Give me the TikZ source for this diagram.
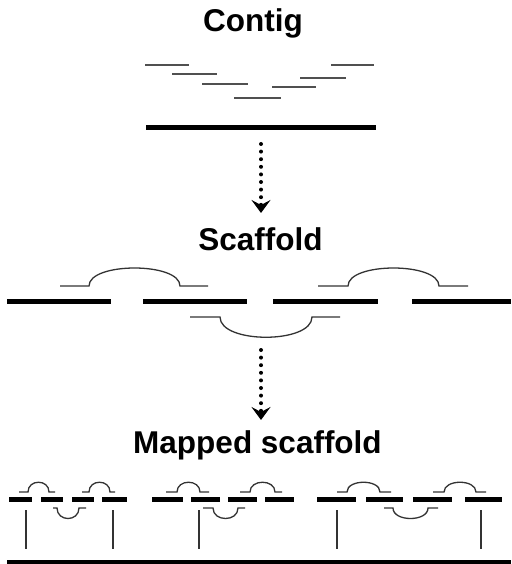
\documentclass[tikz,border=0pt]{standalone}
\usepackage{fontspec}
\setmainfont{Liberation Sans}
\usetikzlibrary{arrows.meta}

\begin{document}
\begin{tikzpicture}[x=1pt,y=-1pt,
  title/.style={font=\fontsize{31.5}{36}\selectfont\bfseries,anchor=base,inner sep=0pt},
  read/.style={draw=readgrey,line width=1.6pt},
  bar/.style={line width=5pt},
  link/.style={draw=linkgrey,line width=1.3pt},
  tether/.style={draw=linkgrey,line width=1.5pt},
  flow/.style={line width=4pt,line cap=round,dash pattern=on 0pt off 7.6pt,
    -{Stealth[length=13pt,width=19pt,inset=5pt]}}]
\definecolor{readgrey}{HTML}{505050}
\definecolor{linkgrey}{HTML}{333333}
\useasboundingbox (0,0) rectangle (511,564);

% titles
\node[title] (contig) at (253,32) {Contig};
\node[title] (scaffold) at (260.5,250) {Scaffold};
\node[title] (mapped) at (257.5,453) {Mapped scaffold};

% reads and the contig
\foreach \xa/\xb/\y in {145/189/65,172/217/74,202/248/84,234/281/98,272/316/87,300/346/78,331/374/65}
  {\draw[read] (\xa,\y) -- (\xb,\y);}
\draw[bar] (146,128) -- (376,128);

\coordinate (flowA) at (261,144);
\coordinate (flowAend) at (261,213);
\draw[flow] (flowA) -- (flowAend);

% scaffold
\foreach \xa/\xb in {7/111,143/247,273/378,412/511}
  {\draw[bar] (\xa,301) -- (\xb,301);}
\foreach \a/\b/\c/\d in {60/89/180/208,318/348/439/468}
  {\draw[link] (\a,286) -- (\b,286) .. controls (\b,262) and (\c,262) .. (\c,286) -- (\d,286);}
\draw[link] (190,317) -- (220,317) .. controls (220,344) and (312,344) .. (312,317) -- (340,317);

\coordinate (flowB) at (261,350);
\coordinate (flowBend) at (261,420);
\draw[flow] (flowB) -- (flowBend);

% mapped scaffold
\foreach \xa/\xb in {9/32,41/63,72/94,102/127,152/183,191/220,228/257,265/294,317/356,366/403,413/452,465/502}
  {\draw[bar] (\xa,499) -- (\xb,499);}
\foreach \a/\b/\c/\d in {19/28/49/55,82/89/110/115,166/177/200/209,240/250/275/282,337/347/380/391,433/444/476/486}
  {\draw[link] (\a,492) -- (\b,492) .. controls (\b,479) and (\c,479) .. (\c,492) -- (\d,492);}
\foreach \a/\b/\c/\d in {53/57/79/86,203/213/238/245,384/393/428/438}
  {\draw[link] (\a,508) -- (\b,508) .. controls (\b,522) and (\c,522) .. (\c,508) -- (\d,508);}
\foreach \x in {26,113,199,337,481}
  {\draw[tether] (\x,510) -- (\x,549);}
\fill (7,560) rectangle (511,564);
\end{tikzpicture}
\end{document}
